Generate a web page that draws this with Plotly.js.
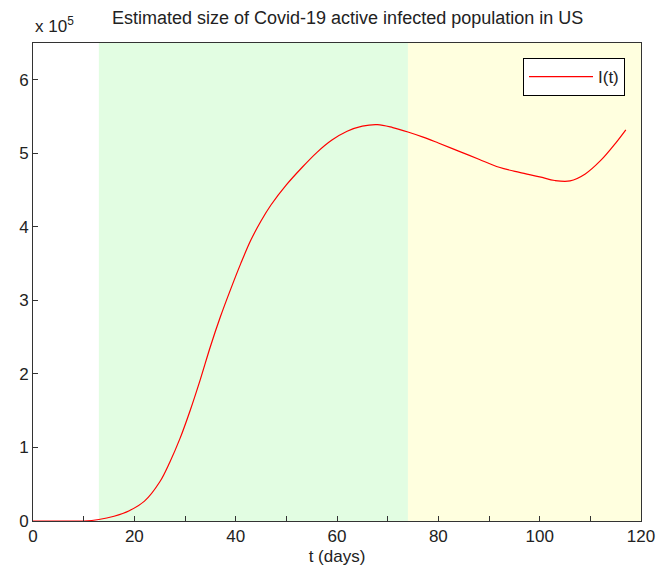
<!DOCTYPE html>
<html>
<head>
<meta charset="utf-8">
<script src="https://cdn.plot.ly/plotly-2.35.2.min.js"></script>
<style>html,body{margin:0;padding:0;background:#fff;}#chart{width:657px;height:572px;}</style>
</head>
<body>
<div id="chart"></div>
<script>
// Days since start
const tDays = [0, 5, 10, 13, 16, 19, 22, 25, 27, 29, 31, 33, 35, 37, 39, 41, 43, 45, 47, 50, 53, 56, 59, 62, 65, 68, 71, 74, 77, 80, 84, 88, 92, 96, 100, 103, 106, 109, 112, 115, 117];
// Active infected population, in units of 10^5
const activeInfected_e5 = [0, 0, 0, 0.02, 0.065, 0.14, 0.27, 0.53, 0.80, 1.12, 1.50, 1.92, 2.37, 2.78, 3.15, 3.50, 3.82, 4.08, 4.30, 4.57, 4.80, 5.01, 5.18, 5.30, 5.37, 5.39, 5.35, 5.29, 5.22, 5.14, 5.03, 4.92, 4.81, 4.74, 4.68, 4.63, 4.625, 4.72, 4.90, 5.14, 5.32];
// Shaded phases
const phaseStart = [13, 74];
const phaseEnd = [74, 120];
const phaseColor = ['#e2fde2', '#ffffdf'];
const xTickVals = [0, 10, 20, 30, 40, 50, 60, 70, 80, 90, 100, 110, 120];
const xTickText = ['0', '', '20', '', '40', '', '60', '', '80', '', '100', '', '120'];
const yTickVals = [0, 1, 2, 3, 4, 5, 6];

const font = "'Liberation Sans', Arial, sans-serif";
const axisCol = '#333333';

const shapes = phaseStart.map((s, i) => ({
  type: 'rect', xref: 'x', yref: 'paper', x0: s, x1: phaseEnd[i], y0: 0, y1: 1,
  fillcolor: phaseColor[i], line: {width: 0}, layer: 'below'
}));

const trace = {
  x: tDays, y: activeInfected_e5, type: 'scatter', mode: 'lines', name: 'I(t)',
  line: {color: '#ff0000', width: 1.2, shape: 'spline', smoothing: 1}
};

const layout = {
  width: 657, height: 572,
  margin: {l: 33, r: 16, t: 43, b: 51},
  paper_bgcolor: '#ffffff', plot_bgcolor: '#ffffff',
  font: {family: font, size: 17, color: '#222222'},
  shapes: shapes,
  showlegend: true,
  legend: {x: 0.9737, xanchor: 'right', y: 0.9686, yanchor: 'top', bgcolor: '#ffffff',
    bordercolor: '#000000', borderwidth: 1, itemwidth: 64,
    font: {family: font, size: 17, color: '#222'}},
  xaxis: {range: [0, 120], tickvals: xTickVals, ticktext: xTickText, ticks: 'inside', ticklen: 5,
    tickcolor: axisCol, showline: true, linecolor: axisCol, linewidth: 1, mirror: true,
    showgrid: false, zeroline: false, tickfont: {size: 17},
    title: {text: 't (days)', font: {size: 17}, standoff: 4}},
  yaxis: {range: [0, 6.5], tickvals: yTickVals, ticks: 'inside', ticklen: 5,
    tickcolor: axisCol, showline: true, linecolor: axisCol, linewidth: 1, mirror: true,
    showgrid: false, zeroline: false, tickfont: {size: 17}},
  annotations: [
    {text: 'Estimated size of Covid-19 active infected population in US', xref: 'paper', yref: 'paper',
     x: 0.5175, y: 1, yshift: 25, xanchor: 'center', yanchor: 'middle', showarrow: false, font: {size: 18}},
    {text: 'x 10<sup>5</sup>', xref: 'paper', yref: 'paper', x: 0, y: 1, xshift: 0, yshift: 18,
     xanchor: 'left', yanchor: 'middle', showarrow: false, font: {size: 17}}
  ]
};

Plotly.newPlot('chart', [trace], layout, {displayModeBar: false, staticPlot: true});
</script>
</body>
</html>
